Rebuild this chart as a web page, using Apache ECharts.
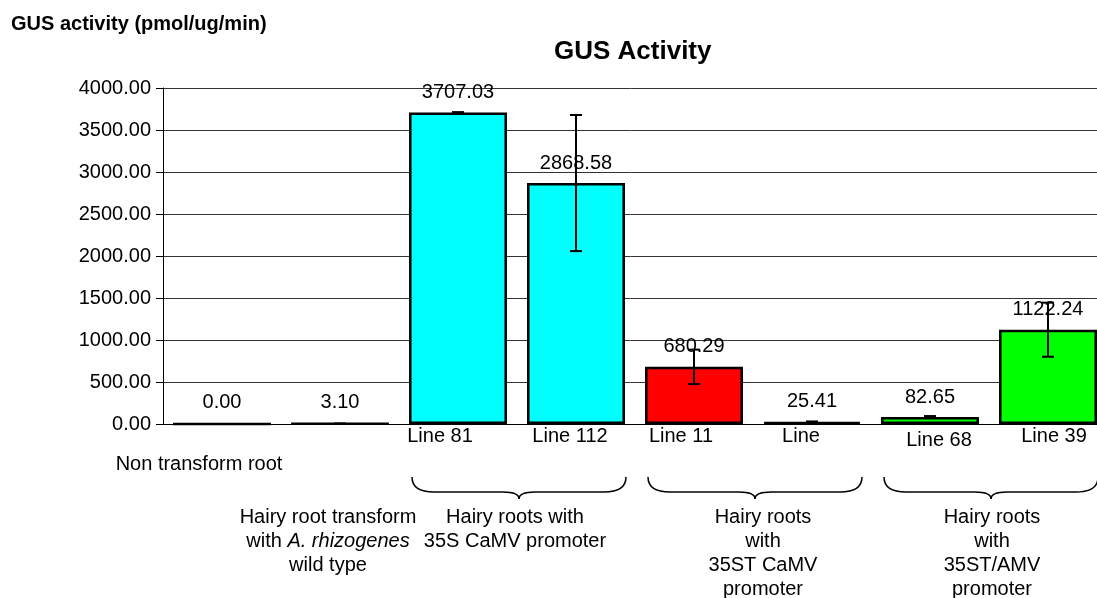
<!DOCTYPE html>
<html>
<head>
<meta charset="utf-8">
<script src="https://cdn.jsdelivr.net/npm/echarts@6/dist/echarts.min.js"></script>
<style>
  html, body { margin: 0; padding: 0; background: #fff; }
  #chart { width: 1097px; height: 598px; }
</style>
</head>
<body>
<div id="chart"></div>
<script>
// data
var categories = ['Non transform root', 'Hairy root wild type', 'Line 81', 'Line 112', 'Line 11', 'Line', 'Line 68', 'Line 39'];
var activity = [0.00, 3.10, 3707.03, 2868.58, 680.29, 25.41, 82.65, 1122.24];
var errors = [0, 3, 6, 810, 205, 5, 12, 322];
var yTicks = [0, 500, 1000, 1500, 2000, 2500, 3000, 3500, 4000];
var groupLabels = ['Hairy roots with\n35S CaMV promoter', 'Hairy roots\nwith\n35ST CaMV\npromoter', 'Hairy roots\nwith\n35ST/AMV\npromoter'];
var groupRanges = [[2, 3], [4, 5], [6, 7]];

// styling
var font = 'Liberation Sans, Arial, sans-serif';
var barColors = ['#ffffff', '#ffffff', '#00ffff', '#00ffff', '#ff0000', '#ff0000', '#00ff00', '#00ff00'];
var labelPad = [[28, 46, 0, 0], [81, 24, 0, 0], [0, 36, 0, 0], [0, 12, 0, 0], [0, 26, 0, 0], [0, 22, 0, 0], [4, 0, 0, 18], [0, 0, 0, 12]];
var groupShift = [-2, 10, 3];

var chart = echarts.init(document.getElementById('chart'));

var xData = categories.map(function (c, i) {
    return { value: c, textStyle: { padding: labelPad[i] } };
});

var barData = activity.map(function (v, i) {
    return { value: v, itemStyle: { color: barColors[i] } };
});

var errData = activity.map(function (v, i) {
    return [i, v - errors[i], v + errors[i]];
});

chart.setOption({
    animation: false,
    title: [
        {
            text: 'GUS activity (pmol/ug/min)',
            left: 6, top: 9,
            textStyle: { fontFamily: font, fontSize: 20, fontWeight: 'bold', color: '#000' }
        },
        {
            text: 'GUS Activity',
            left: 549, top: 34,
            textStyle: { fontFamily: font, fontSize: 26, fontWeight: 'bold', color: '#000' }
        }
    ],
    grid: { left: 163, width: 944, top: 88, bottom: 174, containLabel: false, outerBoundsMode: 'none' },
    xAxis: {
        type: 'category',
        data: xData,
        axisLine: { lineStyle: { color: '#000', width: 1 } },
        axisTick: { show: false },
        axisLabel: {
            interval: 0,
            margin: 0,
            fontFamily: font,
            fontSize: 20,
            lineHeight: 24,
            color: '#000',
            formatter: function (v) {
                if (v === 'Hairy root wild type') {
                    return 'Hairy root transform\nwith {i|A. rhizogenes}\nwild type';
                }
                return v;
            },
            rich: {
                i: { fontStyle: 'italic', fontFamily: font, fontSize: 20, lineHeight: 24, color: '#000' }
            }
        }
    },
    yAxis: {
        type: 'value',
        min: yTicks[0],
        max: yTicks[yTicks.length - 1],
        interval: 500,
        axisLine: { show: true, lineStyle: { color: '#000', width: 1 } },
        axisTick: { show: true, length: 7, lineStyle: { color: '#000' } },
        axisLabel: {
            margin: 12,
            fontFamily: font,
            fontSize: 20,
            color: '#000',
            formatter: function (v) { return v.toFixed(2); }
        },
        splitLine: { lineStyle: { color: '#333', width: 1 } }
    },
    series: [
        {
            type: 'bar',
            data: barData,
            barCategoryGap: '17%',
            itemStyle: { borderColor: '#000', borderWidth: 2.5 },
            label: {
                show: true,
                position: 'top',
                distance: 10,
                fontFamily: font,
                fontSize: 20,
                color: '#000',
                formatter: function (p) { return p.value.toFixed(2); }
            }
        },
        {
            type: 'custom',
            data: errData,
            z: 10,
            renderItem: function (params, api) {
                var x = api.value(0);
                var lo = api.coord([x, api.value(1)]);
                var hi = api.coord([x, api.value(2)]);
                var hw = 6;
                var st = { stroke: '#000', lineWidth: 2 };
                return {
                    type: 'group',
                    children: [
                        { type: 'line', shape: { x1: hi[0], y1: hi[1], x2: lo[0], y2: lo[1] }, style: st },
                        { type: 'line', shape: { x1: hi[0] - hw, y1: hi[1], x2: hi[0] + hw, y2: hi[1] }, style: st },
                        { type: 'line', shape: { x1: lo[0] - hw, y1: lo[1], x2: lo[0] + hw, y2: lo[1] }, style: st }
                    ]
                };
            }
        }
    ]
});

// braces and group captions under the category labels
function curve(x1, y1, cx, cy, x2, y2) {
    return {
        type: 'bezierCurve',
        shape: { x1: x1, y1: y1, cpx1: cx, cpy1: cy, x2: x2, y2: y2 },
        style: { stroke: '#000', lineWidth: 1.5, fill: null }
    };
}
function seg(x1, y1, x2, y2) {
    return {
        type: 'line',
        shape: { x1: x1, y1: y1, x2: x2, y2: y2 },
        style: { stroke: '#000', lineWidth: 1.5 }
    };
}

var axisY = chart.convertToPixel({ yAxisIndex: 0 }, 0);
var elements = [];
groupRanges.forEach(function (r, g) {
    var c1 = chart.convertToPixel({ xAxisIndex: 0 }, r[0]);
    var c2 = chart.convertToPixel({ xAxisIndex: 0 }, r[1]);
    var x1 = c1 - 46, x2 = c2 + 50, cx = (x1 + x2) / 2;
    var y0 = axisY + 53, ym = axisY + 68, yt = axisY + 75;
    elements.push({
        type: 'group',
        children: [
            curve(x1, y0, x1, ym, x1 + 22, ym),
            seg(x1 + 22, ym, cx - 16, ym),
            curve(cx - 16, ym, cx, ym, cx, yt),
            curve(cx, yt, cx, ym, cx + 16, ym),
            seg(cx + 16, ym, x2 - 22, ym),
            curve(x2 - 22, ym, x2, ym, x2, y0)
        ]
    });
    elements.push({
        type: 'text',
        x: (c1 + c2) / 2 + groupShift[g],
        y: axisY + 81,
        style: {
            text: groupLabels[g],
            fontFamily: font,
            fontSize: 20,
            lineHeight: 24,
            fill: '#000',
            align: 'center',
            verticalAlign: 'top'
        }
    });
});
chart.setOption({ graphic: elements });
</script>
</body>
</html>
